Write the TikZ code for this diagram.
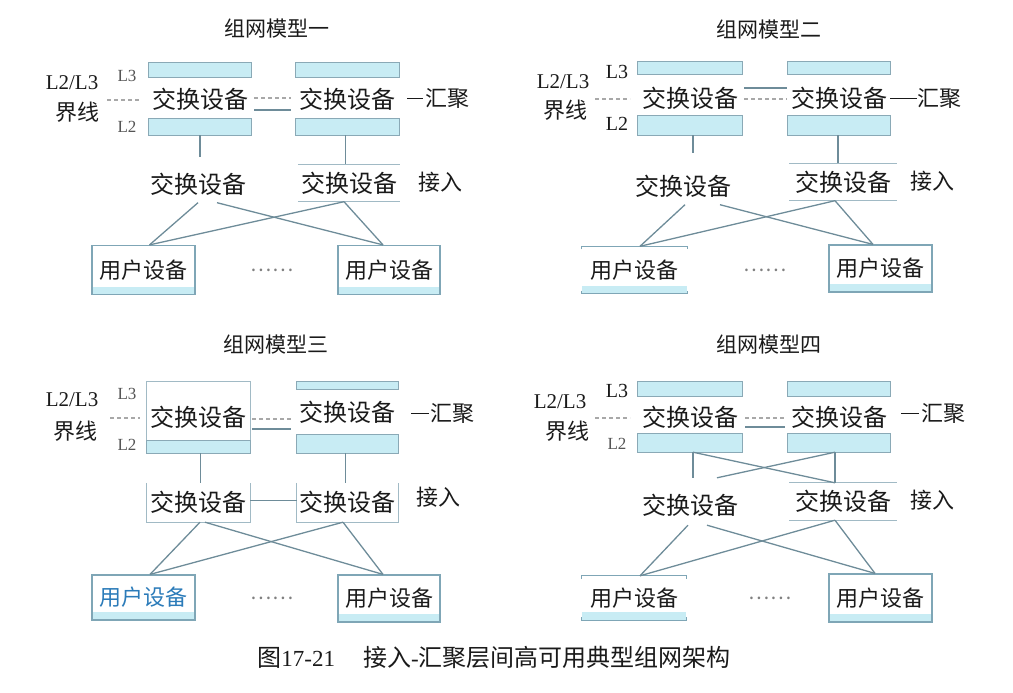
\documentclass[tikz,border=0pt]{standalone}
\usepackage{fontspec}
\setmainfont{Liberation Serif}
\newfontfamily\cjk{Noto Sans CJK SC}
\definecolor{barfill}{HTML}{C8ECF4}
\definecolor{barline}{HTML}{8AA9B6}
\definecolor{lnkcol}{HTML}{6E8C99}
\definecolor{usrline}{HTML}{7FA6B6}
\definecolor{bndcol}{HTML}{A8A8A8}
\definecolor{txt}{HTML}{1A1A1A}
\definecolor{bluetxt}{HTML}{2B7BB9}
\definecolor{lgray}{HTML}{555555}
\newcommand\aggbars[3]{%
  \draw[bar] (#1.north west) rectangle ([yshift=-#2pt]#1.north east);
  \draw[bar] ([yshift=#3pt]#1.south west) rectangle (#1.south east);}
\newcommand\twolines[1]{%
  \draw[accl] (#1.north west) -- (#1.north east);
  \draw[accl] (#1.south west) -- (#1.south east);}
\newcommand\ticklines[1]{%
  \draw[usrl] ([yshift=-3pt]#1.north west) -- (#1.north west) -- (#1.north east) -- ([yshift=-3pt]#1.north east);
  \draw[usrl] ([yshift=3pt]#1.south west) -- (#1.south west) -- (#1.south east) -- ([yshift=3pt]#1.south east);}
\begin{document}
\begin{tikzpicture}[x=1pt,y=-1pt,
  cn/.style={font=\cjk\fontsize{24}{24}\selectfont, text=txt, inner sep=0pt},
  cnm/.style={font=\cjk\fontsize{22}{22}\selectfont, text=txt, inner sep=0pt},
  ttl/.style={font=\cjk\fontsize{21}{21}\selectfont, text=txt, inner sep=0pt},
  lab/.style={font=\fontsize{21}{21}\selectfont, text=txt, inner sep=0pt},
  lsm/.style={font=\fontsize{17}{17}\selectfont, text=lgray, inner sep=0pt},
  lbig/.style={font=\fontsize{20}{20}\selectfont, text=txt, inner sep=0pt},
  agg/.style={cn, minimum width=#1, minimum height=72pt},
  acc/.style={cn, minimum width=#1, minimum height=37pt},
  bar/.style={fill=barfill, draw=barline, line width=0.9pt},
  accl/.style={draw=barline!80, line width=0.9pt},
  usrl/.style={draw=usrline, line width=1.2pt},
  lnk/.style={draw=lnkcol, line width=1.3pt},
  bnd/.style={draw=bndcol, line width=1.1pt, dash pattern=on 4pt off 3pt},
  leader/.style={draw=txt, line width=0.9pt},
  usrpic/.style={path picture={\fill[barfill] ([yshift=8pt]path picture bounding box.south west) rectangle (path picture bounding box.south east);}},
  usr/.style={cnm, minimum width=#1, minimum height=49pt, usrpic, draw=usrline, line width=1.2pt},
  usrb/.style={cnm, minimum width=#1, minimum height=47pt, usrpic},
  dots/.style={font=\cjk\fontsize{20}{20}\selectfont, text=gray, inner sep=0pt}
]
\useasboundingbox (0,0) rectangle (1013,693);

% ================= Panel 1 =================
\node[ttl] (t1) at (277,29) {组网模型一};
\node[lab] (p1a) at (72,83) {L2/L3};
\node[cnm] (p1b) at (78,112) {界线};
\node[lsm] (p1l3) at (127,76) {L3};
\node[lsm] (p1l2) at (127,127) {L2};
\node[agg=102pt] (a1) at (200,99) {交换设备};
\node[agg=103pt] (b1) at (347.5,99) {交换设备};
\aggbars{a1}{15}{17}
\aggbars{b1}{15}{17}
\coordinate (e1a) at (107,100);
\coordinate (e1b) at (141,100);
\draw[bnd] (e1a) -- (e1b);
\draw[bnd] ([xshift=3pt,yshift=1pt]a1.east) -- ([xshift=-5pt,yshift=1pt]b1.west);
\draw[lnk] ([xshift=3pt,yshift=-11pt]a1.east) -- ([xshift=-5pt,yshift=-11pt]b1.west);
\node[cnm] (h1) at (447,98) {汇聚};
\draw[leader] ([xshift=-2pt]h1.west) -- ++(-16,0);
\node[acc=102pt] (c1) at (198,184) {交换设备};
\node[acc=102pt] (d1) at (349,183) {交换设备};
\twolines{d1}
\node[cnm] (j1) at (440,182) {接入};
\draw[lnk] (a1.south) -- ([yshift=8pt]a1.south|-c1.north);
\draw[lnk] ([xshift=-2pt]b1.south) -- ([xshift=-2pt]b1.south|-d1.north);
\node[usr=103pt] (u1) at (143.5,270) {用户设备};
\node[usr=102pt] (v1) at (389,270) {用户设备};
\node[dots] (k1) at (272,270) {……};
\draw[lnk] (c1.south) -- ([xshift=6pt]u1.north);
\draw[lnk] ([xshift=19pt]c1.south) -- ([xshift=-6pt]v1.north);
\draw[lnk] ([xshift=-5pt]d1.south) -- ([xshift=6pt]u1.north);
\draw[lnk] ([xshift=-5pt]d1.south) -- ([xshift=-6pt]v1.north);

% ================= Panel 2 =================
\node[ttl] (t2) at (769,30) {组网模型二};
\node[lab] (p2a) at (563,82) {L2/L3};
\node[cnm] (p2b) at (565,110) {界线};
\node[lbig] (p2l3) at (617,72) {L3};
\node[lbig] (p2l2) at (617,124) {L2};
\node[agg=104pt, minimum height=73pt] (a2) at (690,98.5) {交换设备};
\node[agg=102pt, minimum height=73pt] (b2) at (839,98.5) {交换设备};
\aggbars{a2}{13}{20}
\aggbars{b2}{13}{20}
\coordinate (e2a) at (595,99);
\coordinate (e2b) at (630,99);
\draw[bnd] (e2a) -- (e2b);
\draw[lnk] ([xshift=2pt,yshift=10.5pt]a2.east) -- ([xshift=-1pt,yshift=10.5pt]b2.west);
\draw[bnd] ([xshift=2pt,yshift=-0.5pt]a2.east) -- ([xshift=-1pt,yshift=-0.5pt]b2.west);
\node[cnm] (h2) at (939,98) {汇聚};
\draw[leader] (h2.west) -- (b2.east|-h2.west);
\node[acc=102pt] (c2) at (683,186) {交换设备};
\node[acc=107pt] (d2) at (843,182) {交换设备};
\twolines{d2}
\node[cnm] (j2) at (932,181) {接入};
\draw[lnk] ([xshift=3pt]a2.south) -- ([xshift=3pt,yshift=14pt]a2.south|-c2.north);
\draw[lnk] ([xshift=-1pt]b2.south) -- ([xshift=-1pt]b2.south|-d2.north);
\node[usrb=105pt] (u2) at (634.5,270) {用户设备};
\ticklines{u2}
\node[usr=103pt, minimum height=47pt] (v2) at (880.5,268.5) {用户设备};
\node[dots] (k2) at (765,270) {……};
\draw[lnk] ([xshift=2pt]c2.south) -- ([xshift=5.5pt]u2.north);
\draw[lnk] ([xshift=37pt]c2.south) -- ([xshift=-7.5pt]v2.north);
\draw[lnk] ([xshift=-8pt]d2.south) -- ([xshift=5.5pt]u2.north);
\draw[lnk] ([xshift=-8pt]d2.south) -- ([xshift=-7.5pt]v2.north);

% ================= Panel 3 =================
\node[ttl] (t3) at (276,345) {组网模型三};
\node[lab] (p3a) at (72,400) {L2/L3};
\node[cnm] (p3b) at (75,431) {界线};
\node[lsm] (p3l3) at (127,394) {L3};
\node[lsm] (p3l2) at (127,445) {L2};
\node[agg=103pt, minimum height=71pt] (a3) at (198.5,417.5) {};
\node[agg=101pt, minimum height=71pt] (b3) at (347.5,417.5) {};
\draw[accl] (a3.north west) rectangle (a3.south east);
\draw[bar] ([yshift=13pt]a3.south west) rectangle (a3.south east);
\aggbars{b3}{8}{19}
\node[cn] (a3t) at (a3.center) {交换设备};
\node[cn] (b3t) at ([yshift=5pt]b3.center) {交换设备};
\coordinate (e3a) at (110,418);
\coordinate (e3b) at (140,418);
\draw[bnd] (e3a) -- (e3b);
\draw[bnd] ([xshift=2pt,yshift=-1.5pt]a3.east) -- ([xshift=-6pt,yshift=-1.5pt]b3.west);
\draw[lnk] ([xshift=2pt,yshift=-11.5pt]a3.east) -- ([xshift=-6pt,yshift=-11.5pt]b3.west);
\node[cnm] (h3) at (452,413) {汇聚};
\draw[leader] ([xshift=-1pt]h3.west) -- ++(-18,0);
\node[acc=103pt, minimum height=39pt] (c3) at (198.5,502.5) {交换设备};
\node[acc=101pt, minimum height=39pt] (d3) at (347.5,502.5) {交换设备};
\draw[accl] (c3.north west) -- (c3.south west) -- (c3.south east) -- (c3.north east);
\draw[accl] (d3.north west) -- (d3.south west) -- (d3.south east) -- (d3.north east);
\draw[lnk] ([yshift=2pt]c3.east) -- ([yshift=2pt]d3.west);
\node[cnm] (j3) at (438,497) {接入};
\draw[lnk] ([xshift=2pt]a3.south) -- ([xshift=2pt]a3.south|-c3.north);
\draw[lnk] ([xshift=-2pt]b3.south) -- ([xshift=-2pt]b3.south|-d3.north);
\node[usr=103pt, minimum height=45pt] (u3) at (143.5,597.5) {\color{bluetxt}用户设备};
\node[usr=102pt, minimum height=47pt] (v3) at (389,598.5) {用户设备};
\node[dots] (k3) at (272,598) {……};
\draw[lnk] ([xshift=1.5pt]c3.south) -- ([xshift=6.5pt]u3.north);
\draw[lnk] ([xshift=6.5pt]c3.south) -- ([xshift=-6pt]v3.north);
\draw[lnk] ([xshift=-4.5pt]d3.south) -- ([xshift=6.5pt]u3.north);
\draw[lnk] ([xshift=-4.5pt]d3.south) -- ([xshift=-6pt]v3.north);

% ================= Panel 4 =================
\node[ttl] (t4) at (769,345) {组网模型四};
\node[lab] (p4a) at (560,402) {L2/L3};
\node[cnm] (p4b) at (567,431) {界线};
\node[lbig] (p4l3) at (617,391) {L3};
\node[lsm] (p4l2) at (617,444) {L2};
\node[agg=104pt, minimum height=70pt] (a4) at (690,417) {交换设备};
\node[agg=102pt, minimum height=70pt] (b4) at (839,417) {交换设备};
\aggbars{a4}{15}{19}
\aggbars{b4}{15}{19}
\coordinate (e4a) at (595,418);
\coordinate (e4b) at (630,418);
\draw[bnd] (e4a) -- (e4b);
\draw[bnd] ([xshift=3pt,yshift=-1pt]a4.east) -- ([xshift=-3pt,yshift=-1pt]b4.west);
\draw[lnk] ([xshift=3pt,yshift=-10pt]a4.east) -- ([xshift=-3pt,yshift=-10pt]b4.west);
\node[cnm] (h4) at (943,413) {汇聚};
\draw[leader] ([xshift=-2pt]h4.west) -- ++(-18,0);
\node[acc=102pt, minimum height=40pt] (c4) at (690,505) {交换设备};
\node[acc=107pt] (d4) at (843,501.5) {交换设备};
\twolines{d4}
\node[cnm] (j4) at (932,500) {接入};
\draw[lnk] ([xshift=3pt]a4.south) -- ([xshift=3pt,yshift=7pt]a4.south|-c4.north);
\draw[lnk] ([xshift=-4pt]b4.south) -- ([xshift=-4pt]b4.south|-d4.north);
\draw[lnk] ([xshift=3pt]a4.south) -- ([xshift=-4pt]b4.south|-d4.north);
\draw[lnk] ([xshift=-4pt]b4.south) -- ([xshift=27pt,yshift=7pt]a4.south|-c4.north);
\node[usrb=104pt, minimum height=44pt] (u4) at (634,598) {用户设备};
\ticklines{u4}
\node[usr=103pt, minimum height=48pt] (v4) at (880.5,598) {用户设备};
\node[dots] (k4) at (770,598) {……};
\draw[lnk] ([xshift=-2pt]c4.south) -- ([xshift=6pt]u4.north);
\draw[lnk] ([xshift=17pt]c4.south) -- ([xshift=-5.5pt]v4.north);
\draw[lnk] ([xshift=-8pt]d4.south) -- ([xshift=6pt]u4.north);
\draw[lnk] ([xshift=-8pt]d4.south) -- ([xshift=-5.5pt]v4.north);

% ================= Caption =================
\node[font=\fontsize{23}{23}\selectfont, text=txt, inner sep=0pt] (cap) at (494,657)
  {{\cjk\fontsize{24}{24}\selectfont 图}17-21\hspace{28pt}{\cjk\fontsize{24}{24}\selectfont 接入}-{\cjk\fontsize{24}{24}\selectfont 汇聚层间高可用典型组网架构}};
\end{tikzpicture}
\end{document}
